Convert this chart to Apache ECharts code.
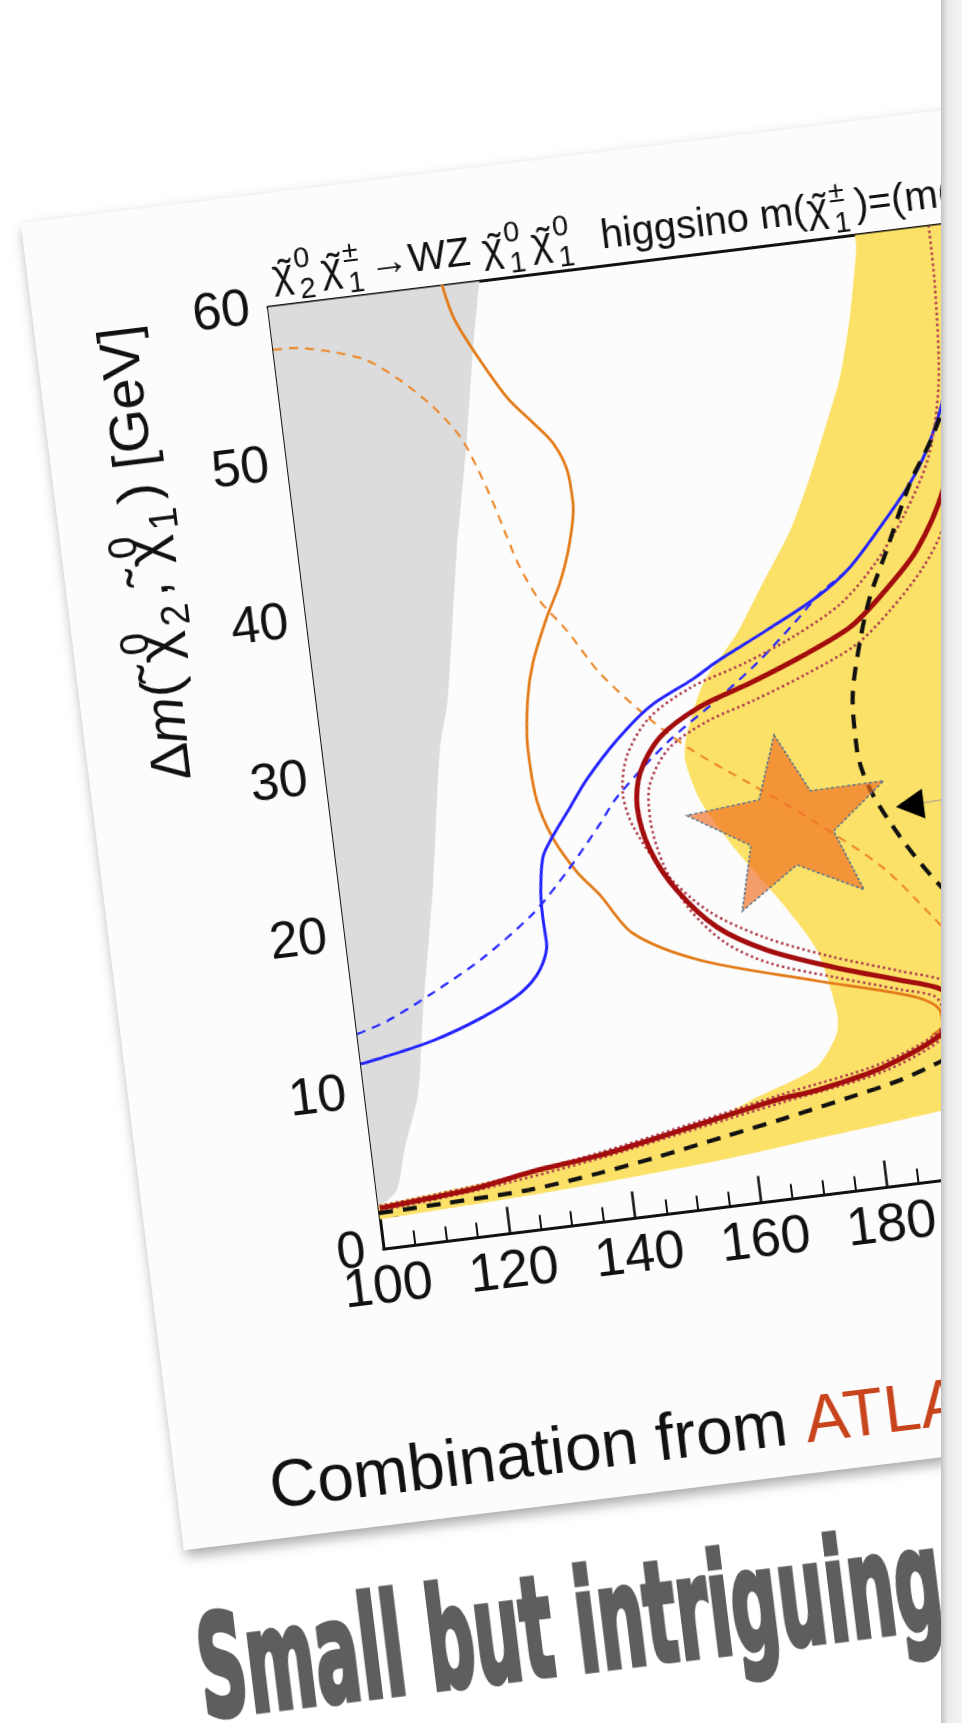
<!DOCTYPE html>
<html><head><meta charset="utf-8">
<script src="https://cdn.jsdelivr.net/npm/echarts@6/dist/echarts.min.js"></script>
<style>
html,body{margin:0;padding:0;width:962px;height:1723px;overflow:hidden;background:#fff;}
#chart{position:absolute;left:-45.87px;top:170.76px;width:1400px;height:1800px;transform-origin:0 0;transform:rotate(-7deg);}
#edge{position:absolute;left:941px;top:0;width:21px;height:1723px;background:linear-gradient(to right,#c2c2c2 0px,#d6d6d6 3px,#ebebeb 7px,#f4f4f4 100%);}
</style></head><body>
<div id="chart"></div><div id="edge"></div>
<script>
// ---- data (x: m(chi) [GeV], y: Delta m [GeV]) ----
const xRange = [100, 240];
const yRange = [0, 60];
const grayBand = [[99,61],[134.2,61],[133.6,60],[131.3,55.8],[128.5,50.0],[124.9,43.3],[120.6,34.0],[118.4,30.9],[114.8,22.6],[110.6,14.3],[108.4,9.5],[105.2,6.1],[103.2,3.6],[100.2,2.7],[99,2.7]];
const yellowInner = [[99,2.78],[100,2.8],[113.4,3.27],[127.5,3.83],[141.8,4.67],[154.3,5.6],[161.3,6.65],[171.3,8.1],[175.1,10.06],[175.5,11.5],[173.6,15.4],[169.1,18.6],[162.9,22.3],[158.2,25.7],[156.6,28.4],[157.4,30.0],[161.0,33.1],[167.1,35.9],[172.2,38.9],[177.5,42.0],[181.6,45.2],[185.2,48.4],[188.2,51.2],[190.9,54.9],[193.2,59.1],[194.2,62]];
const yellowOuter = [[240,62],[240,8],[210,5.5],[190,4.4],[170,3.6],[155,3.0],[140,2.6],[124,2.26],[100,1.9],[99,1.88]];
const orangeSolid = [[127.5,60.5],[128.8,58.0],[131.3,55.75],[135.7,52.5],[139.3,50.7],[142.0,49.3],[143.7,47.5],[144.0,45.4],[142.7,42.9],[140.4,40.45],[137.7,38.4],[134.6,35.6],[133.1,33.35],[132.2,30.2],[132.6,27.0],[134.4,24.5],[137.5,22.2],[140.7,20.55],[145.1,17.9],[155.1,15.7],[173.0,13.5],[188.3,11.7],[191.7,10.7],[191.9,9.75],[190,9.2]];
const orangeDash = [[100,57.3],[104.2,57.2],[109.3,56.7],[114.5,55.9],[119.3,54.4],[123.9,52.5],[127.6,50.4],[129.6,48.4],[131.5,46.0],[133.0,43.75],[134.4,41.8],[136.9,39.5],[140.6,37.4],[144.9,34.5],[151.9,31.2],[158.0,28.9],[166.3,26.4],[176.0,23.4],[185.5,20.1],[192.4,16.6],[198,13.5]];
const blueSolid = [[100,11.8],[103.1,12.0],[111.7,12.7],[120.0,13.8],[126.3,15.0],[129.8,16.3],[131.4,17.95],[131.3,19.6],[131.5,21.3],[132.5,23.4],[134.4,24.6],[137.7,26.3],[140.8,27.9],[146.3,30.15],[152.1,32.0],[159.4,33.4],[163.4,34.3],[171.9,35.9],[180.4,37.6],[186.1,39.2],[192.1,41.7],[197.1,44.0],[200.4,46.0],[203.9,49.0],[207,53],[210,60]];
const blueDash = [[100,13.7],[105,14.3],[112.6,15.7],[121.1,17.5],[129.8,19.9],[136,22.3],[142,25.0],[145.3,26.6],[154.1,29.6],[162.7,31.9],[169.7,33.9],[176.8,36.3],[180.9,37.8],[186.1,39.2],[192.1,41.7],[197.1,44.0],[200.4,46.0],[203.9,49.0],[207,53],[210,60]];
const redObs = [[100.2,2.6],[108.2,2.84],[116.3,3.15],[124.4,3.7],[135.7,4.23],[143.8,4.79],[151.9,5.41],[160.1,6.03],[165.4,6.4],[170.9,6.64],[181.7,7.57],[191.7,9.25],[193.4,10.6],[192.5,11.95],[186.0,12.9],[175.8,14.24],[165.8,15.81],[158.4,17.64],[152.8,20.27],[149.4,22.99],[148.2,25.79],[149.3,27.9],[153.1,30.0],[159.9,31.6],[168.2,32.7],[176.6,33.95],[185.0,35.45],[190.8,37.33],[196.9,39.77],[202.2,43.34],[206,48],[210,55]];
const redDotOuter = [[100.2,2.45],[116.3,3.0],[135.7,4.05],[151.9,5.2],[165.4,6.15],[181.7,7.3],[191.7,8.95],[194.8,10.6],[193.8,12.3],[186.0,13.5],[175.8,14.9],[165.8,16.6],[157.4,18.7],[151.2,21.5],[147.2,24.6],[146.2,26.7],[147.6,29.1],[151.8,31.3],[159.0,32.9],[167.8,34.0],[176.0,35.3],[184.0,37.0],[190.0,39.2],[195.5,42.0],[200.5,45.5],[203.5,50],[204.8,56],[205,60]];
const redDotInner = [[100.2,2.75],[116.3,3.3],[135.7,4.4],[151.9,5.6],[165.4,6.65],[181.7,7.85],[191.7,9.55],[192.2,10.6],[191.2,11.6],[186.0,12.3],[175.8,13.6],[165.8,15.0],[159.4,16.6],[154.4,19.0],[151.2,22.0],[150.0,25.0],[150.6,27.1],[154.2,29.2],[160.6,30.6],[168.6,31.6],[177.0,32.8],[185.6,34.3],[191.6,36.2],[197.5,38.6],[201.5,41.0],[205,45],[208,50]];
const expLower = [[100,2.3],[110,2.4],[124,2.6],[135,3.1],[145,3.7],[155,4.4],[165,5.1],[175.9,5.94],[184.1,6.63],[191.2,7.55],[198,8.8]];
const expUpper = [[208,52],[203.7,48.4],[201.0,46.4],[197.1,44.0],[192.2,40.0],[188.7,37.2],[186.2,34.4],[184.0,30.9],[183.7,27.7],[185.0,25.1],[188.8,21.9],[193.1,19.1],[198,16.5]];
const starPoint = [[171.7, 23.96]];
const trianglePoint = [[190.9, 23.8]];
const arrowLine = [[192.2, 23.85], [205, 24.0]];

const F = '"Liberation Sans", Arial, Helvetica, sans-serif';
const chart = echarts.init(document.getElementById('chart'), null, {renderer: 'canvas'});

function poly(pts, color) {
  return function (params, api) {
    return {type: 'polygon', shape: {points: pts.map(p => api.coord(p)), smooth: 0.25},
      style: {fill: color}};
  };
}
function line(data, color, width, type, z) {
  return {type: 'line', data: data, showSymbol: false, smooth: 0.3, silent: true, z: z,
    lineStyle: {color: color, width: width, type: type, cap: 'butt'}};
}
// rich-text helpers: chi with tilde, stacked super/subscript
const C = '{tl|\u2009\u02DC}{t|χ}';
function ss(sup, sub) { return '{sp|' + sup + '}{sb|' + sub + '}'; }
function richSet(main, small, subPad) {
  return {
    t: {fontSize: main, fontFamily: F, fill: '#111', lineHeight: main * 1.5},
    i: {fontSize: main, fontFamily: F, fontStyle: 'italic', fill: '#111', lineHeight: main * 1.5},
    tl: {fontSize: main, fontFamily: F, fill: '#111', lineHeight: main * 1.5, width: 1},
    sp: {fontSize: small, fontFamily: F, fill: '#111', lineHeight: small, verticalAlign: 'top', width: 1, padding: [0, 0, 0, 2]},
    sb: {fontSize: small, fontFamily: F, fill: '#111', lineHeight: small, verticalAlign: 'bottom', padding: [0, subPad, 0, 2]}
  };
}

// slogan width fit
const mctx = document.createElement('canvas').getContext('2d');
const sloganFont = 'bold 140px "Liberation Sans Narrow", "DejaVu Sans Condensed", sans-serif';
mctx.font = sloganFont;
const sloganW = mctx.measureText('Small but intriguing').width;
const sloganScale = 748 / sloganW;

const titleText = C + ss('0', '2') + C + ss('±', '1') + '{t|→WZ }' + C + ss('0', '1') + C + ss('0', '1') +
  '{t|  higgsino m(}' + C + ss('±', '1') + '{t|)=(m(}' + C + ss('0', '2') + '{t|)+m(}' + C + ss('0', '1') + '{t|))/2}';
const yTitleText = '{t|Δ}{i|m}{t|( }' + C + ss('0', '2') + '{t|, }' + C + ss('0', '1') + '{t|) [GeV]}';

const option = {
  animation: false,
  backgroundColor: 'transparent',
  grid: {left: 295, top: 173.6, width: 887.6, height: 948.9, show: true,
    backgroundColor: '#fcfcfc', borderWidth: 0, outerBoundsMode: 'none', containLabel: false},
  xAxis: [{
    type: 'value', min: xRange[0], max: xRange[1], interval: 20,
    axisLine: {show: true, onZero: false, lineStyle: {color: '#111', width: 3}},
    axisTick: {show: true, inside: true, length: 27, lineStyle: {color: '#111', width: 2.5}},
    minorTick: {show: true, splitNumber: 4, length: 15, lineStyle: {color: '#111', width: 2}},
    axisLabel: {fontSize: 54, fontFamily: F, color: '#111', margin: 12},
    splitLine: {show: false}, minorSplitLine: {show: false}
  }, {
    type: 'value', position: 'top', min: xRange[0], max: xRange[1],
    axisLine: {show: true, onZero: false, lineStyle: {color: '#111', width: 3}},
    axisTick: {show: false}, axisLabel: {show: false}, splitLine: {show: false}
  }],
  yAxis: {
    type: 'value', min: yRange[0], max: yRange[1], interval: 10,
    axisLine: {show: true, onZero: false, lineStyle: {color: '#111', width: 3}},
    axisTick: {show: true, inside: true, length: 36, lineStyle: {color: '#111', width: 2.5}},
    minorTick: {show: true, splitNumber: 5, length: 19, lineStyle: {color: '#222', width: 2}},
    axisLabel: {fontSize: 52, fontFamily: F, color: '#111', margin: 18},
    splitLine: {show: false}, minorSplitLine: {show: false}
  },
  graphic: [
    {type: 'rect', z: -10, silent: true, shape: {x: 60, y: 60, width: 1300, height: 1337},
      style: {fill: '#fcfcfc', shadowBlur: 12, shadowColor: 'rgba(0,0,0,0.35)', shadowOffsetX: 2, shadowOffsetY: 6}},
    {type: 'text', z: 20, silent: true, x: 302, y: 145,
      style: {text: titleText, align: 'left', verticalAlign: 'middle', rich: richSet(40, 29, 6)}},
    {type: 'text', z: 20, silent: true, x: 146, y: 174, rotation: Math.PI / 2,
      style: {text: yTitleText, align: 'right', verticalAlign: 'middle', rich: richSet(56, 40, 8)}},
    {type: 'text', z: 20, silent: true, x: 153, y: 1348,
      style: {text: '{a|Combination from }{b|ATLAS}', align: 'left', verticalAlign: 'middle',
        rich: {a: {fontSize: 66, fontFamily: F, fill: '#111'}, b: {fontSize: 66, fontFamily: F, fill: '#c8441c'}}}},
    {type: 'text', z: 20, silent: true, x: 60, y: 1530, scaleX: sloganScale,
      style: {text: 'Small but intriguing', font: sloganFont, fill: '#5e5e5e',
        stroke: '#5e5e5e', lineWidth: 5, align: 'left', verticalAlign: 'middle'}}
  ],
  series: [
    {type: 'custom', renderItem: poly(grayBand, '#dcdcdc'), data: [[100, 0]], clip: true, z: 1, silent: true},
    {type: 'custom', renderItem: poly(yellowInner.concat(yellowOuter), '#fce168'), data: [[100, 0]], clip: true, z: 1, silent: true},
    line(orangeDash, '#ec8a2e', 2.2, [9, 7], 3),
    line(orangeSolid, '#e37b18', 2.8, 'solid', 3),
    line(blueDash, '#2a2aff', 2.3, [9, 7], 4),
    line(blueSolid, '#2424ff', 3, 'solid', 4),
    line(redDotOuter, '#b04050', 2.6, [2.5, 3], 5),
    line(redDotInner, '#b04050', 2.6, [2.5, 3], 5),
    line(redObs, '#a30d0d', 5, 'solid', 6),
    line(expLower, '#111', 4.2, [14, 10], 7),
    line(expUpper, '#111', 4.2, [14, 10], 7),
    line(arrowLine, '#999', 1, 'solid', 7),
    {type: 'scatter', data: starPoint, z: 8, silent: true,
      symbol: 'path://M0,-100 L24.7,-34 L95.1,-30.9 L39.9,13 L58.8,80.9 L0,42 L-58.8,80.9 L-39.9,13 L-95.1,-30.9 L-24.7,-34 Z',
      symbolSize: [200, 168], symbolKeepAspect: false, symbolRotate: 3,
      itemStyle: {color: 'rgba(240,112,36,0.68)', borderColor: '#4f7394', borderWidth: 1.5, borderType: [3, 2], opacity: 1}},
    {type: 'scatter', data: trianglePoint, z: 9, silent: true, symbol: 'triangle', symbolRotate: 90,
      symbolSize: [30, 28], itemStyle: {color: '#000', opacity: 1}}
  ]
};
chart.setOption(option);
</script>
</body></html>
